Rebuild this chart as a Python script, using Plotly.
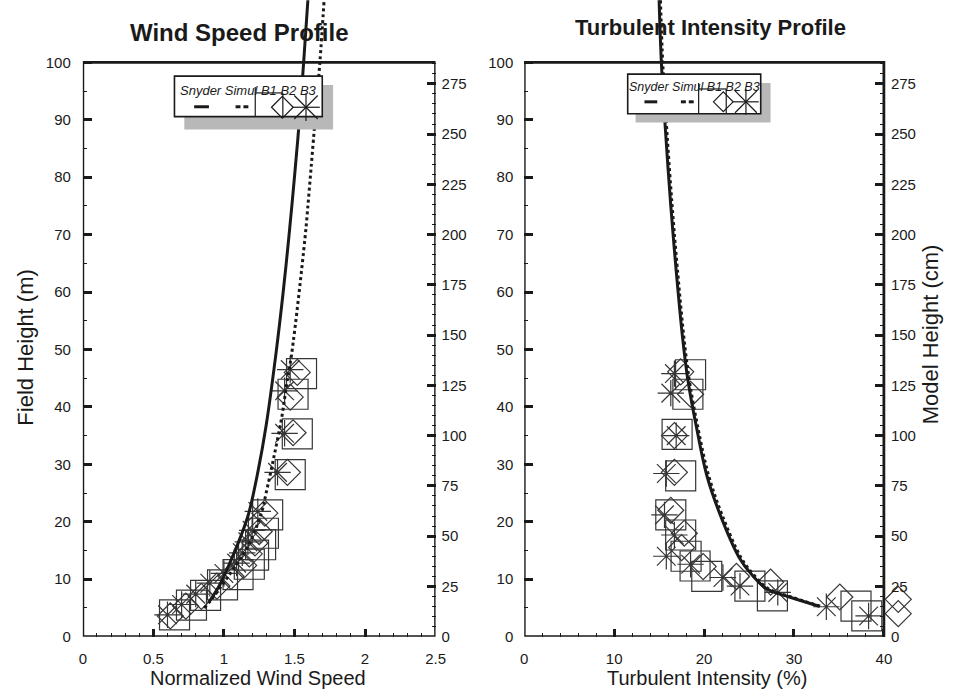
import plotly.graph_objects as go

W, H = 953, 700

# ---------------- data: Wind Speed Profile ----------------
ws_snyder_y = [5.9, 9.0, 13.3, 17.5, 21.4, 28.6, 36.9, 49.5, 60.0, 69.5, 80.0, 90.0, 100.0, 110.8]
ws_snyder_x = [0.89, 0.97, 1.05, 1.12, 1.175, 1.24, 1.30, 1.37, 1.42, 1.46, 1.50, 1.535, 1.565, 1.595]
ws_simul_y = [5.0, 6.4, 10.5, 15.7, 21.9, 25.1, 30.8, 38.2, 44.0, 49.2, 69.5, 76.4, 86.7, 100.0, 110.8]
ws_simul_x = [0.86, 0.91, 1.03, 1.17, 1.27, 1.30, 1.35, 1.41, 1.445, 1.48, 1.575, 1.60, 1.635, 1.68, 1.71]

ws_b1_y = [3.8, 5.5, 7.2, 9.0, 10.8, 12.6, 14.2, 16.0, 18.0, 21.2, 28.2, 35.3, 42.2, 45.8]
ws_b1_x = [0.65, 0.77, 0.87, 0.99, 1.10, 1.18, 1.21, 1.26, 1.28, 1.31, 1.47, 1.52, 1.49, 1.55]
ws_b2_y = [3.6, 5.3, 7.0, 8.8, 10.5, 12.4, 14.4, 16.3, 18.3, 21.5, 28.6, 35.5, 41.7, 46.0]
ws_b2_x = [0.62, 0.73, 0.84, 0.95, 1.05, 1.14, 1.18, 1.22, 1.25, 1.29, 1.45, 1.49, 1.47, 1.52]
ws_b3_y = [3.8, 5.6, 7.4, 9.3, 11.0, 12.8, 14.6, 16.5, 18.5, 21.8, 28.6, 35.4, 42.8, 46.5]
ws_b3_x = [0.60, 0.70, 0.80, 0.90, 1.00, 1.09, 1.13, 1.17, 1.20, 1.24, 1.38, 1.43, 1.43, 1.47]

# ---------------- data: Turbulent Intensity Profile ----------------
ti_snyder_y = [5.3, 6.9, 8.3, 10.8, 13.8, 21.2, 28.1, 36.1, 44.7, 52.2, 63.7, 75.0, 88.3, 100.0, 110.8]
ti_snyder_x = [32.8, 29.5, 27.0, 25.3, 23.9, 21.8, 20.3, 19.2, 18.2, 17.6, 16.9, 16.3, 15.7, 15.25, 15.0]
ti_simul_y = [5.3, 6.9, 8.3, 10.8, 13.8, 21.2, 28.1, 36.1, 44.7, 52.2, 63.7, 75.0, 88.3, 100.0, 110.8]
ti_simul_x = [32.9, 29.7, 27.2, 25.5, 24.1, 22.0, 20.5, 19.35, 18.35, 17.75, 17.05, 16.45, 15.85, 15.4, 15.15]

ti_b1_y = [3.6, 5.3, 7.1, 8.8, 10.5, 12.3, 14.0, 17.7, 21.2, 28.0, 35.2, 42.2, 45.6]
ti_b1_x = [38.1, 36.9, 27.6, 25.1, 20.3, 19.0, 18.0, 17.4, 16.3, 17.4, 17.0, 18.2, 18.5]
ti_b2_y = [4.0, 6.5, 6.9, 9.5, 10.5, 12.2, 15.5, 18.0, 22.0, 28.6, 35.0, 42.2, 46.1]
ti_b2_x = [41.6, 41.6, 35.1, 27.4, 23.6, 19.9, 17.5, 17.8, 16.3, 16.7, 16.7, 18.5, 17.4]
ti_b3_y = [3.6, 5.2, 7.7, 8.8, 10.3, 12.6, 14.0, 17.7, 21.2, 28.4, 35.0, 42.4, 45.8]
ti_b3_x = [38.3, 33.6, 28.2, 24.0, 22.1, 18.5, 15.8, 16.7, 15.6, 15.8, 16.9, 16.3, 16.7]

# ---------------- ticks ----------------
field_ticks = list(range(0, 101, 10))
field_minor = list(range(5, 100, 10))
model_ticks = list(range(0, 276, 25))
model_minor = [v for v in range(0, 286, 5) if v % 25 != 0]
ws_ticks = [0, 0.5, 1, 1.5, 2, 2.5]
ws_tick_text = ["0", "0.5", "1", "1.5", "2", "2.5"]
ws_minor = [round(i * 0.1, 2) for i in range(26) if i % 5 != 0]
ti_ticks = [0, 10, 20, 30, 40]
ti_minor = [v for v in range(0, 41, 2) if v % 10 != 0]

FONT = "Liberation Sans, Arial, Helvetica, sans-serif"
INK = "#1a1a1a"
MK = "#363636"

FIELD_TOP = 644 * 100 / 581.0          # field range shown (domain goes to figure top)
MODEL_TOP = FIELD_TOP * 285.7 / 100.0  # model-scale range
TI_MAX = 44.0                          # extra room on the right so outlying B2 points show

fig = go.Figure()

def add_panel(xa, ya, b1x, b1y, b2x, b2y, b3x, b3y, snx, sny, six, siy):
    common = dict(xaxis=xa, yaxis=ya, showlegend=False, hoverinfo="skip",
                  mode="markers", cliponaxis=False)
    fig.add_trace(go.Scatter(x=b1x, y=b1y, name="B1",
                             marker=dict(symbol="square-open", size=30, color=MK,
                                         line=dict(width=1.2, color=MK)), **common))
    fig.add_trace(go.Scatter(x=b2x, y=b2y, name="B2",
                             marker=dict(symbol="diamond-open", size=20, color=MK,
                                         line=dict(width=1.2, color=MK)), **common))
    fig.add_trace(go.Scatter(x=b3x, y=b3y, name="B3",
                             marker=dict(symbol="asterisk-open", size=22, color=MK,
                                         line=dict(width=1.2, color=MK)), **common))
    fig.add_trace(go.Scatter(x=six, y=siy, name="Simul", mode="lines", xaxis=xa, yaxis=ya,
                             line=dict(color=INK, width=3, dash="dot", shape="spline",
                                       smoothing=1.0),
                             showlegend=False, hoverinfo="skip"))
    fig.add_trace(go.Scatter(x=snx, y=sny, name="Snyder", mode="lines", xaxis=xa, yaxis=ya,
                             line=dict(color=INK, width=3, shape="spline", smoothing=1.0),
                             showlegend=False, hoverinfo="skip"))

add_panel("x", "y", ws_b1_x, ws_b1_y, ws_b2_x, ws_b2_y, ws_b3_x, ws_b3_y,
          ws_snyder_x, ws_snyder_y, ws_simul_x, ws_simul_y)
add_panel("x2", "y3", ti_b1_x, ti_b1_y, ti_b2_x, ti_b2_y, ti_b3_x, ti_b3_y,
          ti_snyder_x, ti_snyder_y, ti_simul_x, ti_simul_y)

# invisible traces so that the secondary (model height) axes are drawn
for xa, ya in (("x", "y2"), ("x2", "y4")):
    fig.add_trace(go.Scatter(x=[0], y=[0], xaxis=xa, yaxis=ya, mode="markers",
                             marker=dict(opacity=0), showlegend=False, hoverinfo="skip"))

tickfont = dict(family=FONT, size=15, color=INK)

def xaxis_cfg(domain, rng, tv, tt, minor, anchor):
    return dict(domain=domain, range=rng, anchor=anchor, tickmode="array", tickvals=tv,
                ticktext=tt, ticks="inside", ticklen=8, tickwidth=2.5, tickcolor=INK,
                minor=dict(tickmode="array", tickvals=minor, ticks="inside", ticklen=4,
                           tickwidth=1, tickcolor=INK),
                showline=False, showgrid=False, zeroline=False, tickfont=tickfont,
                ticklabelstandoff=11, fixedrange=True)

def yaxis_cfg(rng, tv, minor, anchor, side="left", overlaying=None, standoff=10,
              position=None):
    d = dict(range=rng, anchor=anchor, side=side, tickmode="array", tickvals=tv,
             ticks="inside", ticklen=9, tickwidth=2.5, tickcolor=INK,
             minor=dict(tickmode="array", tickvals=minor, ticks="inside", ticklen=4,
                        tickwidth=1, tickcolor=INK),
             showline=False, showgrid=False, zeroline=False, tickfont=tickfont,
             ticklabelstandoff=standoff, fixedrange=True)
    if overlaying:
        d["overlaying"] = overlaying
    else:
        d["domain"] = [1 - 644 / H, 1.0]
    if position is not None:
        d["position"] = position
    return d

xd1 = [80 / W, 438 / W]
px_per_ti = (893 - 528) / 40.0
xd2 = [528 / W, (528 + px_per_ti * TI_MAX) / W]

fig.update_layout(
    width=W, height=H, margin=dict(l=0, r=0, t=0, b=0),
    paper_bgcolor="white", plot_bgcolor="rgba(0,0,0,0)", showlegend=False,
    xaxis=xaxis_cfg(xd1, [0, 2.5], ws_ticks, ws_tick_text, ws_minor, "y"),
    yaxis=yaxis_cfg([0, FIELD_TOP], field_ticks, field_minor, "x", standoff=11),
    yaxis2=yaxis_cfg([0, MODEL_TOP], model_ticks, model_minor, "x", side="right",
                     overlaying="y", standoff=5),
    xaxis2=xaxis_cfg(xd2, [0, TI_MAX], ti_ticks, [str(v) for v in ti_ticks], ti_minor, "y3"),
    yaxis3=yaxis_cfg([0, FIELD_TOP], field_ticks, field_minor, "x2", standoff=10),
    yaxis4=yaxis_cfg([0, MODEL_TOP], model_ticks, model_minor, "free", side="right",
                     overlaying="y3", standoff=6, position=893 / W),
)

shapes = []
# frames (in data coordinates so they stop at field height 100)
shapes.append(dict(type="rect", xref="x", yref="y", x0=0, x1=2.5, y0=0, y1=100,
                   line=dict(color=INK, width=2.8), layer="below"))
shapes.append(dict(type="rect", xref="x2", yref="y3", x0=0, x1=40, y0=0, y1=100,
                   line=dict(color=INK, width=2.8), layer="below"))

def PX(x):
    return x / W

def PY(y):
    return 1 - y / H

def rect_px(x0, y0, x1, y1, fill, line_w, line_c="black"):
    return dict(type="rect", xref="paper", yref="paper", x0=PX(x0), x1=PX(x1),
                y0=PY(y1), y1=PY(y0), fillcolor=fill,
                line=dict(width=line_w, color=line_c), layer="above")

def seg_px(x0, y0, x1, y1, w=1.2):
    return dict(type="line", xref="paper", yref="paper", x0=PX(x0), x1=PX(x1),
                y0=PY(y0), y1=PY(y1), line=dict(color=INK, width=w), layer="above")

def diamond_px(cx, cy, r):
    p = "M {},{} L {},{} L {},{} L {},{} Z".format(
        PX(cx - r), PY(cy), PX(cx), PY(cy - r), PX(cx + r), PY(cy), PX(cx), PY(cy + r))
    return dict(type="path", xref="paper", yref="paper", path=p,
                line=dict(color=INK, width=1.2), layer="above")

def asterisk_px(cx, cy, r):
    d = r * 0.85
    return [seg_px(cx - r, cy, cx + r, cy), seg_px(cx, cy - r, cx, cy + r),
            seg_px(cx - d, cy - d, cx + d, cy + d), seg_px(cx - d, cy + d, cx + d, cy - d)]

def legend(box, shadow, sny, sim, b1, dia, ast):
    out = [rect_px(*shadow, fill="#b8b8b8", line_w=0, line_c="rgba(0,0,0,0)"),
           rect_px(*box, fill="white", line_w=1.6, line_c=INK)]
    out.append(seg_px(sny[0], sny[2], sny[1], sny[2], w=3))
    out.append(seg_px(sim[0], sim[2], sim[0] + 5, sim[2], w=3))
    out.append(seg_px(sim[1] - 5, sim[2], sim[1], sim[2], w=3))
    bx0, by0, bx1, by1 = b1
    out.append(seg_px(bx0, by0 - 6, bx0, by1))
    out.append(seg_px(bx0, by0, bx1, by0))
    out.append(seg_px(bx1, by0, bx1, by1))
    out.append(diamond_px(*dia))
    out += asterisk_px(*ast)
    return out

shapes += legend(box=(173, 77, 323, 118), shadow=(183, 86, 334, 131),
                 sny=(193, 208, 108), sim=(235, 248, 108),
                 b1=(255, 94, 283, 118), dia=(282.5, 108.5, 11), ast=(306.5, 108.5, 14))
shapes += legend(box=(633, 75, 768, 115), shadow=(641, 84, 778, 124),
                 sny=(650, 663, 103), sim=(687, 700, 103),
                 b1=(705, 90, 733, 115), dia=(730, 103, 10), ast=(753, 103, 13))

fig.update_layout(shapes=shapes)

ann = []
def text_px(x, y, s, size, bold=False, angle=0, italic=False):
    t = s
    if bold:
        t = "<b>" + t + "</b>"
    if italic:
        t = "<i>" + t + "</i>"
    return dict(xref="paper", yref="paper", x=PX(x), y=PY(y), text=t, showarrow=False,
                xanchor="center", yanchor="middle", textangle=angle,
                font=dict(family=FONT, size=size, color=INK))

ann.append(text_px(238, 33, "Wind Speed Profile", 24, bold=True))
ann.append(text_px(717, 28, "Turbulent Intensity Profile", 22, bold=True))
ann.append(text_px(258, 686, "Normalized Wind Speed", 20))
ann.append(text_px(713, 686, "Turbulent Intensity (%)", 20))
ann.append(text_px(22, 352, "Field Height (m)", 22, angle=-90))
ann.append(text_px(940, 338, "Model Height (cm)", 22, angle=-90))
ann.append(text_px(248, 92, "Snyder Simul B1 B2 B3", 13, italic=True))
ann.append(text_px(701, 88, "Snyder Simul B1 B2 B3", 12.5, italic=True))
fig.update_layout(annotations=ann)

fig.write_html("out.html")
